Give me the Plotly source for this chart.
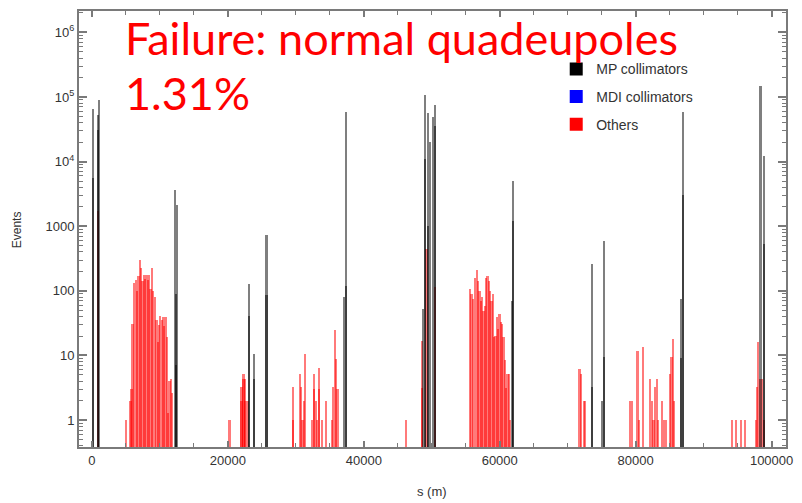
import plotly.graph_objects as go

# ---- MP collimator losses: position along the ring (m) and event counts ----
mp_s = [100, 100, 835, 835, 1070,
        12230, 12530, 12380, 12380,
        23040, 23040, 23880, 23880, 25680, 25680,
        37060, 37310, 37310,
        48680, 49030, 49030, 49420, 49420, 49780, 50140, 50500, 50500,
        61900, 61900, 61800,
        73540, 73540,
        75110, 75370, 75370,
        86730, 86730, 86980, 86980,
        98370, 98930, 98930]
mp_n = [66000, 5600, 53000, 31000, 89000,
        3700, 2100, 90, 7,
        126, 41, 10.4, 4.3, 725, 87,
        80, 59000, 120,
        53, 107000, 11000, 57000, 1000, 20000, 49000, 74000, 35000,
        5000, 1200, 70,
        263, 3.3,
        2, 600, 9.4,
        74, 9, 59000, 3000,
        150000, 12000, 530]

# ---- MDI collimator losses (none recorded) ----
mdi_s = []
mdi_n = []

# ---- All other elements ----
oth_s = [880, 4980,
         5670, 5810, 5960, 6150, 6450, 6640, 6840, 7030, 7220, 7430, 7620, 7810,
         8010, 8200, 8400, 8600, 8790, 8980, 9230, 9480, 9670, 9860, 10060,
         10260, 10450, 10650, 10840, 11030, 11240, 11430, 11620, 11820,
         20260, 22020, 22020, 22310, 22310, 22520, 22520, 22900,
         29590, 29590, 30570, 30770, 30960, 31160, 31350, 32420, 32670, 32670,
         32920, 33150, 33400, 33400, 33890, 34470, 35350, 35500, 35750, 35940, 36140,
         46190, 48530, 48530, 49220, 50500,
         55630, 55860, 56110, 56360, 56650, 56840, 57030, 57240, 57430, 57620,
         57820, 58010, 58210, 58410, 58600, 58790, 58990, 59190, 59380, 59580,
         59770, 59960, 60170, 60360, 60550, 60750, 60940, 61130, 61340, 61530,
         71740, 71980, 72370, 72560,
         79210, 79500, 80280, 80530, 81060, 82140, 82380, 82630, 82820, 83110,
         83320, 83900, 84190, 84490, 85070, 85260, 85450, 85660,
         94200, 94790, 95520, 96060, 97670, 97860, 98050, 98250, 98540, 98840]
oth_n = [1700, 1,
         2, 3, 31, 133, 148, 100, 170, 302, 225, 142, 175, 150,
         175, 148, 175, 107, 228, 100, 79, 35, 16, 30, 41,
         35, 39, 29, 39, 19, 1.3, 4, 4.4, 2.6,
         1, 3.2, 2, 5.2, 4.3, 4.3, 2, 2,
         3.2, 1, 5.2, 3.2, 1, 2, 10.4, 1, 5.2, 3,
         2, 1, 6.3, 3, 1, 2, 1, 3.2, 24.8, 8.7, 3,
         1, 17, 3.1, 440, 115,
         105, 89, 74, 160, 208, 142, 100, 70, 79, 49,
         59, 160, 170, 142, 100, 70, 89, 19, 20, 39,
         26, 44, 33, 31, 19, 8.4, 3.1, 5.2, 5.2, 1,
         6.2, 5.2, 2, 2,
         2, 2, 11.6, 1, 13.4, 4.4, 2, 1, 3.2, 4.4,
         1, 2, 1, 1, 5.2, 9.4, 18, 2,
         1, 1, 1, 1, 1, 3.3, 16, 4.4, 4.4, 1]

# ---- axis ticks ----
y_tickvals = [1, 10, 100, 1000, 1e4, 1e5, 1e6]
y_ticktext = ["1", "10", "100", "1000", "10<sup>4</sup>", "10<sup>5</sup>", "10<sup>6</sup>"]
x_tickvals = [0, 20000, 40000, 60000, 80000, 100000]
x_ticktext = ["0", "20000", "40000", "60000", "80000", "100000"]

MP_W = 300
OTH_W = 340
AXIS_GREY = "#7a7a7a"
TXT = "#333333"

fig = go.Figure()

fig.add_trace(go.Bar(x=oth_s, y=oth_n, width=OTH_W, showlegend=False,
                     marker=dict(color="rgba(255,0,0,0.52)", line=dict(width=0))))
fig.add_trace(go.Bar(x=mdi_s, y=mdi_n, width=MP_W, showlegend=False,
                     marker=dict(color="rgba(0,0,255,0.5)", line=dict(width=0))))
fig.add_trace(go.Bar(x=mp_s, y=mp_n, width=MP_W, showlegend=False,
                     marker=dict(color="rgba(0,0,0,0.5)", line=dict(width=0))))

# legend swatches
for name, col in [("MP collimators", "#000000"),
                  ("MDI collimators", "#0000ff"),
                  ("Others", "#ff0000")]:
    fig.add_trace(go.Scatter(x=[None], y=[None], mode="markers", name=name,
                             legendgroup=name,
                             marker=dict(symbol="square", size=13, color=col,
                                         line=dict(width=0))))

minor_y = [m * 10 ** e for e in range(-1, 7) for m in range(2, 10)]

fig.update_layout(
    width=802, height=503,
    margin=dict(l=79, r=13, t=9, b=56),
    paper_bgcolor="white", plot_bgcolor="white",
    barmode="overlay", bargap=0,
    font=dict(family="Liberation Sans, Arial, sans-serif", size=13, color=TXT),
    legend=dict(x=0.675, y=0.903, xanchor="left", yanchor="top",
                bgcolor="rgba(0,0,0,0)", borderwidth=0,
                font=dict(size=14, color=TXT),
                traceorder="grouped", tracegroupgap=6.5),
    xaxis=dict(range=[-1905, 102120], showgrid=False, zeroline=False,
               showline=True, linecolor=AXIS_GREY, linewidth=2, mirror="ticks",
               ticks="inside", ticklen=6, tickwidth=1.5, tickcolor=AXIS_GREY,
               tickvals=x_tickvals, ticktext=x_ticktext,
               minor=dict(dtick=5000, tick0=0, ticklen=4, tickwidth=1.2,
                          tickcolor=AXIS_GREY, ticks="inside"),
               tickfont=dict(size=13, color=TXT)),
    yaxis=dict(type="log", range=[-0.416, 6.33], showgrid=False, zeroline=False,
               showline=True, linecolor=AXIS_GREY, linewidth=2, mirror="ticks",
               ticks="inside", ticklen=8, tickwidth=1.5, tickcolor=AXIS_GREY,
               tickvals=y_tickvals, ticktext=y_ticktext,
               minor=dict(tickvals=minor_y, ticklen=4, tickwidth=1.2,
                          tickcolor=AXIS_GREY, ticks="inside"),
               tickfont=dict(size=13, color=TXT)),
)

# axis titles
fig.add_annotation(text="s (m)", xref="paper", yref="paper",
                   x=(433 - 79) / 710, y=-(492 - 447) / 438,
                   xanchor="center", yanchor="middle", showarrow=False,
                   font=dict(size=13, color=TXT))
fig.add_annotation(text="Events", xref="paper", yref="paper",
                   x=(17 - 79) / 710, y=(447 - 229) / 438, textangle=-90,
                   xanchor="center", yanchor="middle", showarrow=False,
                   font=dict(size=12, color=TXT))

# headline
HEAD_FONT = dict(family="Lato, sans-serif", size=45, color="#ff0000")
fig.add_annotation(text="Failure: normal quadeupoles", xref="paper", yref="paper",
                   x=(123 - 79) / 710, y=(447 - 36) / 438,
                   xanchor="left", yanchor="middle", showarrow=False,
                   font=HEAD_FONT)
fig.add_annotation(text="1.31%", xref="paper", yref="paper",
                   x=(123 - 79) / 710, y=(447 - 91) / 438,
                   xanchor="left", yanchor="middle", showarrow=False,
                   font=HEAD_FONT)

fig.write_html("out.html")
